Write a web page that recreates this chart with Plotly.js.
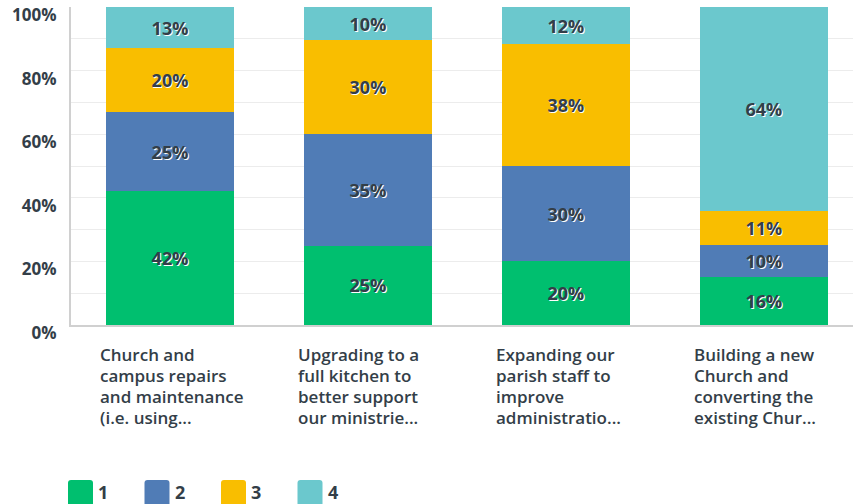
<!DOCTYPE html>
<html>
<head>
<meta charset="utf-8">
<script src="https://cdn.plot.ly/plotly-3.0.1.min.js"></script>
<style>html,body{margin:0;padding:0;background:#fff;}#chart{width:853px;height:504px;}</style>
</head>
<body>
<div id="chart"></div>
<script>
const categories = [
  "Church and<br>campus repairs<br>and maintenance<br>(i.e. using...",
  "Upgrading to a<br>full kitchen to<br>better support<br>our ministrie...",
  "Expanding our<br>parish staff to<br>improve<br>administratio...",
  "Building a new<br>Church and<br>converting the<br>existing Chur..."
];
const seriesNames = ["1", "2", "3", "4"];
const colors = ["#00bf6f", "#507cb6", "#f9be00", "#6bc8cd"];
const values1 = [42, 25, 20, 15.2];
const values2 = [25, 35, 30, 10.1];
const values3 = [20, 29.5, 38.3, 10.6];
const values4 = [13, 10.5, 11.7, 64.1];
const labels1 = ["42%", "25%", "20%", "16%"];
const labels2 = ["25%", "35%", "30%", "10%"];
const labels3 = ["20%", "30%", "38%", "11%"];
const labels4 = ["13%", "10%", "12%", "64%"];
const yTicks = [0, 20, 40, 60, 80, 100];
const yTickText = ["0%", "20%", "40%", "60%", "80%", "100%"];

const allValues = [values1, values2, values3, values4];
const allLabels = [labels1, labels2, labels3, labels4];
const xIdx = categories.map((c, i) => i);
const textColor = "#333e48";
const fontFam = "'Open Sans', sans-serif";

const traces = allValues.map((vals, k) => ({
  type: "bar",
  x: xIdx,
  y: vals,
  name: seriesNames[k],
  marker: { color: colors[k], line: { width: 0 } },
  text: allLabels[k],
  textposition: "inside",
  insidetextanchor: "middle",
  textangle: 0,
  constraintext: "none",
  textfont: { family: fontFam, size: 18, color: textColor, weight: 700, shadow: "1px 1px 0px #fff" },
  hoverinfo: "none",
  showlegend: false
}));

const annotations = [];
const lineGap = 21;
categories.forEach((c, i) => {
  c.split("<br>").forEach((line, j) => {
    annotations.push({
      xref: "x", yref: "paper",
      x: i - 0.365, y: (325 - 354) / 318,
      yshift: -j * lineGap,
      xanchor: "left", yanchor: "middle",
      align: "left",
      text: line,
      showarrow: false,
      font: { family: fontFam, size: 17, color: textColor, weight: 600 }
    });
  });
});

const shapes = [];
const legendX0 = 68, legendStep = 76.5, legendTop = 480, sw = 25, rad = 3;
function px2x(px) { return (px - 71) / 782; }
function py2y(py) { return (325 - py) / 318; }
seriesNames.forEach((n, k) => {
  const l = legendX0 + k * legendStep, r = l + sw, t = legendTop, b = legendTop + sw;
  const path = "M" + px2x(l + rad) + "," + py2y(t) +
    " L" + px2x(r - rad) + "," + py2y(t) +
    " Q" + px2x(r) + "," + py2y(t) + " " + px2x(r) + "," + py2y(t + rad) +
    " L" + px2x(r) + "," + py2y(b) +
    " L" + px2x(l) + "," + py2y(b) +
    " L" + px2x(l) + "," + py2y(t + rad) +
    " Q" + px2x(l) + "," + py2y(t) + " " + px2x(l + rad) + "," + py2y(t) + " Z";
  shapes.push({
    type: "path", xref: "paper", yref: "paper",
    path: path,
    fillcolor: colors[k], line: { width: 0 }
  });
  annotations.push({
    xref: "paper", yref: "paper",
    x: px2x(r + 3),
    y: py2y(492),
    xanchor: "left", yanchor: "middle",
    text: n, showarrow: false,
    font: { family: fontFam, size: 18, color: textColor, weight: 700 }
  });
});

const layout = {
  width: 853, height: 504,
  margin: { l: 71, r: 0, t: 7, b: 179, pad: 0 },
  paper_bgcolor: "#fff", plot_bgcolor: "#fff",
  barmode: "stack",
  bargap: 0.35,
  showlegend: false,
  xaxis: {
    range: [-0.5, 3.45],
    showticklabels: false,
    showgrid: false,
    zeroline: false,
    showline: true, linecolor: "#d0d0d0", linewidth: 2,
    fixedrange: true
  },
  yaxis: {
    range: [0, 100],
    tickvals: yTicks,
    ticktext: yTickText,
    showgrid: true, gridcolor: "#ececec", gridwidth: 1,
    minor: { dtick: 10, showgrid: true, gridcolor: "#ececec", gridwidth: 1 },
    zeroline: false,
    showline: true, linecolor: "#d0d0d0", linewidth: 2,
    ticks: "", ticklen: 0,
    ticklabelshift: 8,
    ticklabelstandoff: 9,
    ticklabeloverflow: "allow",
    tickfont: { family: fontFam, size: 17, color: textColor, weight: 700 },
    fixedrange: true
  },
  annotations: annotations,
  shapes: shapes
};

Plotly.newPlot("chart", traces, layout, { displayModeBar: false, staticPlot: true });
</script>
</body>
</html>
